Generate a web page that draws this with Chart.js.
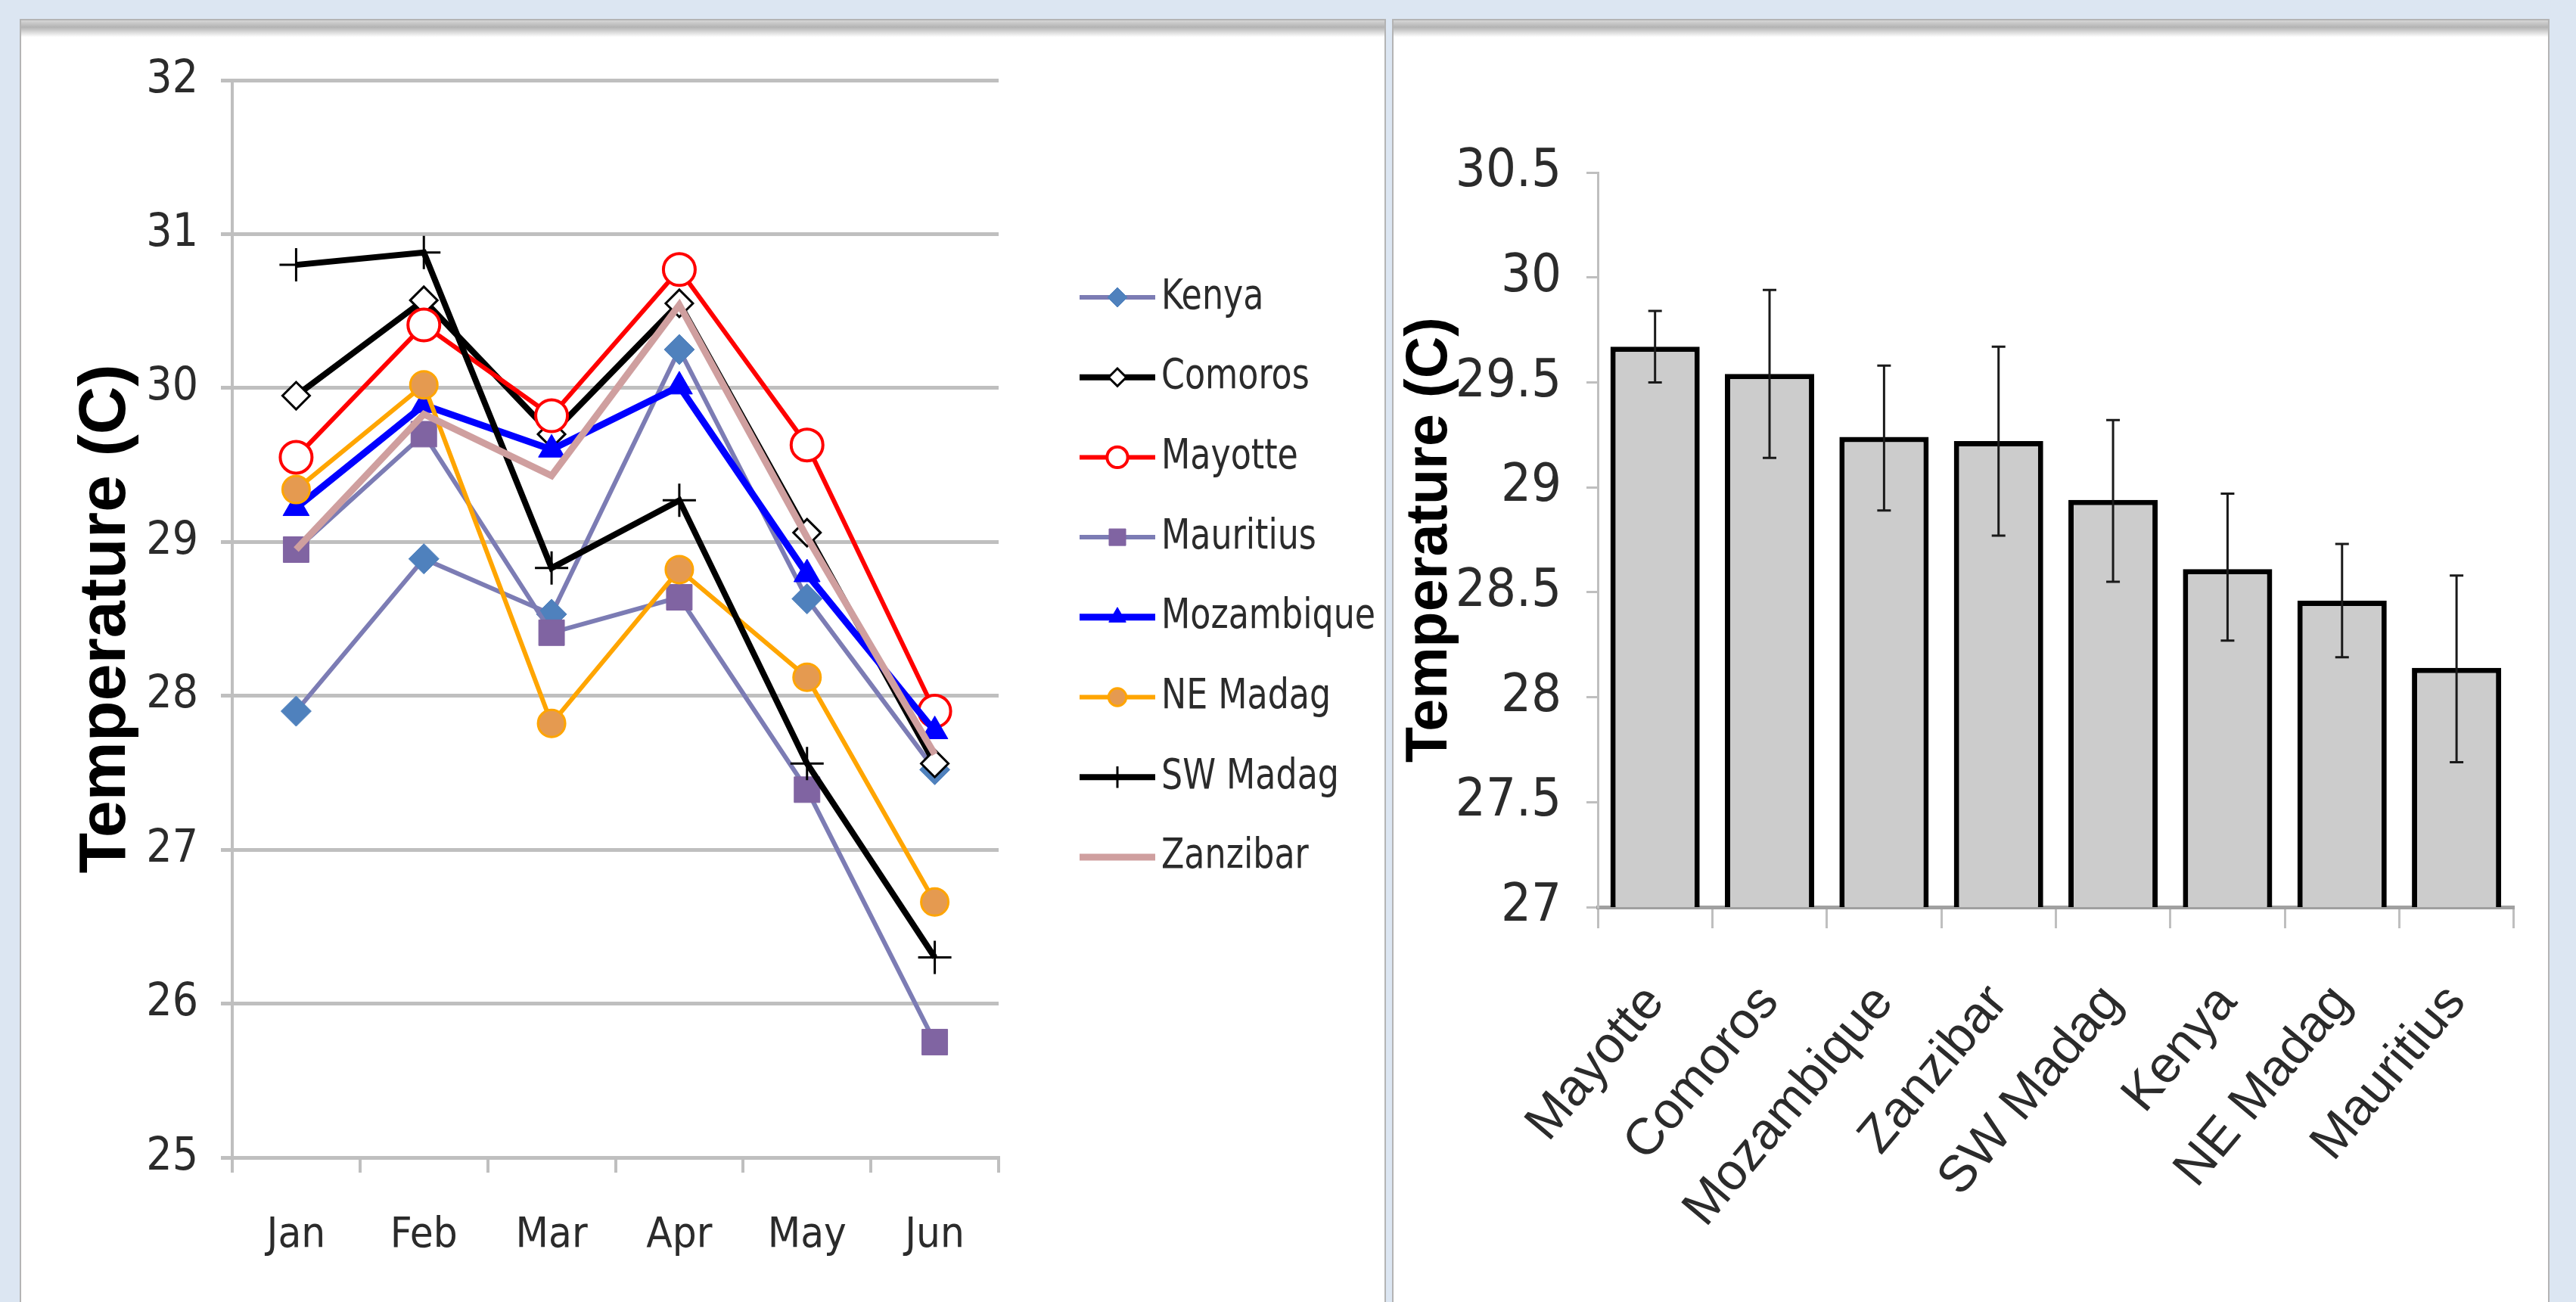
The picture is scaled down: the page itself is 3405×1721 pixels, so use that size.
<!DOCTYPE html>
<html>
<head>
<meta charset="utf-8">
<script src="https://cdn.jsdelivr.net/npm/chart.js@4.4.1/dist/chart.umd.min.js"></script>
<style>
  html, body { margin: 0; padding: 0; }
  body { width: 3405px; height: 1721px; background: #dce6f2; position: relative; overflow: hidden; }
  .panel {
    position: absolute; top: 25px; height: 1720px; box-sizing: border-box;
    background: #fff linear-gradient(to bottom, #d6d6d6 0px, #b3b3b3 9px, #ffffff 22px) no-repeat;
    background-size: 100% 24px;
    border: 2px solid #b4b4b4;
  }
  #leftPanel { left: 26px; width: 1806px; }
  #rightPanel { left: 1840px; width: 1530px; }
  canvas { position: absolute; }
  #lineChart { left: 30px; top: 40px; }
  #barChart { left: 1845px; top: 40px; }
</style>
</head>
<body>
<div class="panel" id="leftPanel"></div>
<div class="panel" id="rightPanel"></div>
<canvas id="lineChart" width="1800" height="1681"></canvas>
<canvas id="barChart" width="1525" height="1681"></canvas>
<script>
// monthly mean temperatures (C)
const months = ['Jan', 'Feb', 'Mar', 'Apr', 'May', 'Jun'];
const kenya      = [27.90, 28.89, 28.53, 30.25, 28.63, 27.52];
const comoros    = [29.95, 30.57, 29.70, 30.55, 29.06, 27.56];
const mayotte    = [29.55, 30.41, 29.82, 30.77, 29.63, 27.90];
const mauritius  = [28.95, 29.70, 28.41, 28.64, 27.39, 25.75];
const mozambique = [29.22, 29.89, 29.60, 30.01, 28.79, 27.77];
const neMadag    = [29.34, 30.02, 27.82, 28.82, 28.12, 26.66];
const swMadag    = [30.80, 30.88, 28.83, 29.27, 27.56, 26.30];
const zanzibar   = [28.95, 29.83, 29.43, 30.54, 29.03, 27.62];

// overall means with error bars
const countries = ['Mayotte', 'Comoros', 'Mozambique', 'Zanzibar', 'SW Madag', 'Kenya', 'NE Madag', 'Mauritius'];
const meanTemp  = [29.67, 29.54, 29.24, 29.22, 28.94, 28.61, 28.46, 28.14];
const errHigh   = [29.84, 29.94, 29.58, 29.67, 29.32, 28.97, 28.73, 28.58];
const errLow    = [29.50, 29.14, 28.89, 28.77, 28.55, 28.27, 28.19, 27.69];

const NARROW = '"Liberation Sans Narrow", "Arial Narrow", "DejaVu Sans Condensed", "Liberation Sans", sans-serif';
const SANS = '"Liberation Sans", Arial, sans-serif';
const TEXT = '#2b2b2b';
const AXIS = '#bfbfbf';

function series(label, data, color, width, style, radius, fill, border, bw) {
  return {
    label, data,
    borderColor: color, borderWidth: width, tension: 0,
    pointStyle: style, pointRadius: radius, pointHoverRadius: radius,
    pointBackgroundColor: fill, pointBorderColor: border, pointBorderWidth: bw
  };
}

const lineSets = [
  series('Kenya', kenya, '#7c7cb4', 6, 'rectRot', 20, '#4f81bd', '#4f81bd', 1),
  series('Comoros', comoros, '#000000', 8, 'rectRot', 18, '#ffffff', '#000000', 3),
  series('Mayotte', mayotte, '#ff0000', 6, 'circle', 21, '#ffffff', '#ff0000', 4),
  series('Mauritius', mauritius, '#7c7cb4', 6, 'rect', 24, '#8064a2', '#8064a2', 1),
  series('Mozambique', mozambique, '#0000ff', 9, 'triangle', 20, '#0000ff', '#0000ff', 1),
  series('NE Madag', neMadag, '#ffa500', 6, 'circle', 18, '#e59a50', '#ffa500', 3),
  series('SW Madag', swMadag, '#000000', 8, 'cross', 22, '#000000', '#000000', 3),
  series('Zanzibar', zanzibar, '#cf9f9f', 9, 'circle', 0, '#cf9f9f', '#cf9f9f', 1)
];
// later series drawn on top, as in the original
lineSets.forEach((ds, i) => { ds.order = lineSets.length - i; });

const lineLegend = {
  id: 'lineLegend',
  afterDraw(chart) {
    const ctx = chart.ctx;
    const x0 = 1397, x1 = 1497, tx = 1505;
    chart.data.datasets.forEach((ds, i) => {
      const y = 353 + i * 105.7;
      ctx.save();
      ctx.strokeStyle = ds.borderColor;
      ctx.lineWidth = ds.borderWidth;
      ctx.beginPath(); ctx.moveTo(x0, y); ctx.lineTo(x1, y); ctx.stroke();
      if (ds.pointRadius > 0) {
        ctx.fillStyle = ds.pointBackgroundColor;
        ctx.strokeStyle = ds.pointBorderColor;
        ctx.lineWidth = ds.pointBorderWidth;
        Chart.helpers.drawPoint(ctx, {
          pointStyle: ds.pointStyle, rotation: 0,
          radius: ds.pointRadius * 0.65, borderWidth: ds.pointBorderWidth
        }, (x0 + x1) / 2, y);
      }
      // the original legend font is a narrow face
      ctx.translate(tx, y);
      ctx.scale(0.88, 1);
      ctx.fillStyle = TEXT;
      ctx.font = '56px ' + NARROW;
      ctx.textBaseline = 'middle';
      ctx.fillText(ds.label, 0, 0);
      ctx.restore();
    });
  }
};

new Chart(document.getElementById('lineChart'), {
  type: 'line',
  data: { labels: months, datasets: lineSets },
  options: {
    responsive: false,
    animation: false,
    layout: { padding: { top: 66, right: 510, bottom: 0, left: 0 } },
    plugins: { legend: { display: false }, tooltip: { enabled: false } },
    scales: {
      x: {
        offset: true,
        grid: { offset: true, drawOnChartArea: false, tickLength: 20, color: AXIS, lineWidth: 4 },
        border: { color: AXIS, width: 5 },
        ticks: { color: TEXT, font: { family: NARROW, size: 56 }, padding: 50 },
        afterFit(s) { s.height = 191; }
      },
      y: {
        min: 25, max: 32,
        ticks: { stepSize: 1, color: TEXT, font: { family: NARROW, size: 60 }, padding: 30 },
        grid: { color: AXIS, lineWidth: 5, tickLength: 15 },
        border: { color: AXIS, width: 4 },
        title: {
          display: true, text: 'Temperature (C)', color: '#000',
          font: { family: SANS, size: 88, weight: 'bold' },
          padding: { top: 58, bottom: 0 }
        },
        afterFit(s) { s.width = 277; }
      }
    }
  },
  plugins: [lineLegend]
});

const errorBars = {
  id: 'errorBars',
  afterDatasetsDraw(chart) {
    const ctx = chart.ctx, xs = chart.scales.x, ys = chart.scales.y;
    ctx.save();
    ctx.strokeStyle = '#1a1a1a';
    ctx.lineWidth = 3;
    countries.forEach((c, i) => {
      const px = xs.getPixelForValue(i);
      const top = ys.getPixelForValue(errHigh[i]);
      const bot = ys.getPixelForValue(errLow[i]);
      ctx.beginPath();
      ctx.moveTo(px, top); ctx.lineTo(px, bot);
      ctx.moveTo(px - 9, top); ctx.lineTo(px + 9, top);
      ctx.moveTo(px - 9, bot); ctx.lineTo(px + 9, bot);
      ctx.stroke();
    });
    ctx.restore();
  }
};

new Chart(document.getElementById('barChart'), {
  type: 'bar',
  data: {
    labels: countries,
    datasets: [{
      label: 'Temperature',
      data: meanTemp,
      backgroundColor: '#cccccc',
      borderColor: '#000000',
      borderWidth: 7,
      categoryPercentage: 1,
      barPercentage: 0.78
    }]
  },
  options: {
    responsive: false,
    animation: false,
    layout: { padding: { top: 188, right: 6, bottom: 0, left: 0 } },
    plugins: { legend: { display: false }, tooltip: { enabled: false } },
    scales: {
      x: {
        grid: { offset: true, drawOnChartArea: false, tickLength: 28, color: AXIS, lineWidth: 3 },
        border: { color: '#a0a0a0', width: 5 },
        ticks: {
          color: TEXT, font: { family: SANS, size: 68 },
          minRotation: 50, maxRotation: 50, autoSkip: false, padding: 60
        },
        afterFit(s) { s.height = 522; }
      },
      y: {
        min: 27, max: 30.5,
        ticks: {
          stepSize: 0.5, color: TEXT, font: { family: NARROW, size: 70 }, padding: 33,
          callback: v => String(v)
        },
        grid: { drawOnChartArea: false, color: AXIS, lineWidth: 3, tickLength: 15 },
        border: { color: AXIS, width: 3 },
        title: {
          display: true, text: 'Temperature (C)', color: '#000',
          font: { family: SANS, size: 77, weight: 'bold' },
          padding: { top: 0, bottom: 0 }
        },
        afterFit(s) { s.width = 267; }
      }
    }
  },
  plugins: [errorBars]
});
</script>
</body>
</html>
